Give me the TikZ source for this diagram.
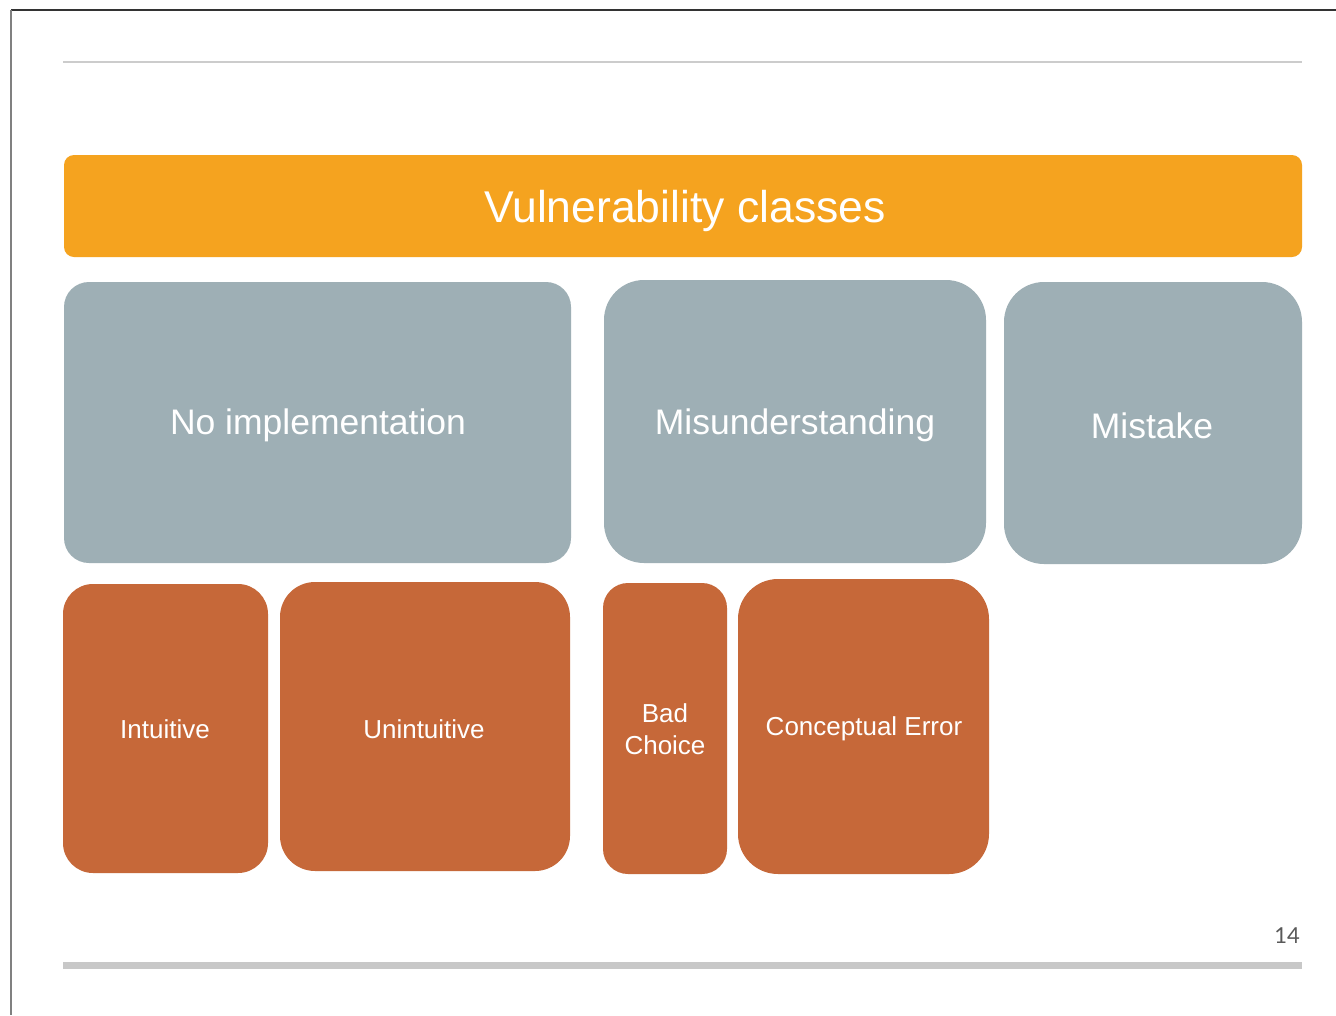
\documentclass[tikz,border=0pt]{standalone}
\usepackage{fontspec}
\setmainfont{Liberation Sans}
\newfontfamily\numfont{Lato}
\definecolor{titleorange}{HTML}{F5A31F}
\definecolor{classgray}{HTML}{9EAFB5}
\definecolor{subrust}{HTML}{C66839}
\definecolor{rulegray}{HTML}{C8C8C8}
\begin{document}
\begin{tikzpicture}[x=1pt,y=-1pt,
  box/.style={inner sep=0pt, text=white, align=center},
  classbox/.style={box, fill=classgray, font=\fontsize{35.5}{40}\selectfont},
  subbox/.style={box, fill=subrust, font=\fontsize{26}{32}\selectfont}]
\useasboundingbox (0,0) rectangle (1336,1015);
\fill[white] (0,0) rectangle (1336,1015);
% page frame
\draw[line width=1.5pt, black!80] (11,10) -- (1336,10);
\draw[line width=2pt, black!50] (11,10) -- (11,1015);
% header and footer rules
\draw[line width=1.3pt, black!20] (63,62) -- (1302,62);
\draw[line width=7pt, rulegray] (63,965) -- (1302,965);
% title bar
\path[fill=titleorange, rounded corners=10pt] (64,155) rectangle (1302,257);
\node[box, font=\fontsize{44.5}{50}\selectfont] (title) at (685,211) {Vulnerability classes};
% vulnerability classes
\path[classbox, rounded corners=25pt] (64,282) rectangle (571,563);
\node[classbox, fill=none] (noimpl) at (318,425) {No implementation};
\path[classbox, rounded corners=40pt] (604,280) rectangle (986,563);
\node[classbox, fill=none] (misund) at (795,425) {Misunderstanding};
\path[classbox, rounded corners=40pt] (1004,282) rectangle (1302,564);
\node[classbox, fill=none] (mistake) at (1152,426) {Mistake};
% subclasses
\path[subbox, rounded corners=30pt] (63,584) rectangle (268,873);
\node[subbox, fill=none] (intuitive) at (165,729) {Intuitive};
\path[subbox, rounded corners=35pt] (280,582) rectangle (570,871);
\node[subbox, fill=none] (unintuitive) at (424,729) {Unintuitive};
\path[subbox, rounded corners=25pt] (603,583) rectangle (727,874);
\node[subbox, fill=none] (badchoice) at (665,729) {Bad\\Choice};
\path[subbox, rounded corners=40pt] (738,579) rectangle (989,874);
\node[subbox, fill=none] (concept) at (864,729) {Conceptual Error};
% page number
\node[text=black!65, font=\numfont\fontsize{22}{24}\selectfont] (pagenum) at (1287,936) {14};
\end{tikzpicture}
\end{document}
